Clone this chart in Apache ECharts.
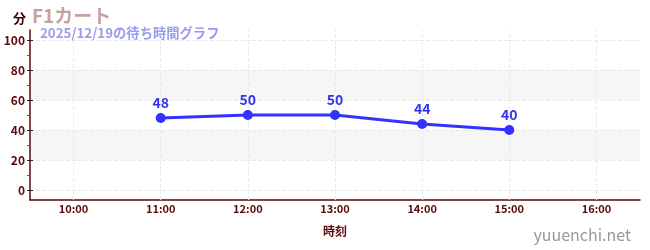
<!DOCTYPE html>
<html><head><meta charset="utf-8">
<script src="https://cdn.jsdelivr.net/npm/echarts@6/dist/echarts.min.js"></script>
<style>html,body{margin:0;padding:0;background:#fff}#c{width:650px;height:250px}</style>
</head><body><div id="c"></div>
<script>
const categories = ['10:00','11:00','12:00','13:00','14:00','15:00','16:00'];
const waitTimes = [null, 48, 50, 50, 44, 40, null];
const yMajorTicks = [0, 20, 40, 60, 80, 100];
const yMinorTicks = [10, 30, 50, 70, 90];
const titleText = 'F1カート';
const subtitleText = '2025/12/19の待ち時間グラフ';
const yName = '分';
const xName = '時刻';
const watermark = 'yuuenchi.net';

const axisColor = '#5a0a0a';
const fontFam = '"Noto Sans CJK JP", "Noto Sans", sans-serif';
const chart = echarts.init(document.getElementById('c'), null, {renderer: 'canvas'});
const yMin = -6.67, yMax = 106.67;
chart.setOption({
  animation: false,
  textStyle: {fontFamily: fontFam},
  title: [
    {text: titleText, left: 27, top: 1, textStyle: {color: '#c9a0a0', fontSize: 19, fontWeight: 'bold', fontFamily: fontFam}},
    {text: subtitleText, left: 35, top: 21, textStyle: {color: '#9b9bef', fontSize: 13.3, fontWeight: 'bold', fontFamily: fontFam}},
    {text: yName, left: 8, top: 7, textStyle: {color: '#400000', fontSize: 13, fontWeight: 'bold', fontFamily: fontFam}},
    {text: watermark, right: 14, top: 222, textStyle: {color: '#999', fontSize: 16, fontWeight: 'normal', fontFamily: fontFam}}
  ],
  grid: {left: 30, right: 10, top: 30, bottom: 50, containLabel: false},
  xAxis: {
    type: 'category', data: categories, boundaryGap: true,
    name: xName, nameLocation: 'middle', nameGap: 25,
    nameTextStyle: {color: axisColor, fontSize: 12, fontWeight: 'bold'},
    axisLine: {onZero: false, lineStyle: {color: axisColor, width: 1.5}},
    axisTick: {alignWithLabel: true, lineStyle: {color: '#888'}, length: 3},
    axisLabel: {color: axisColor, fontSize: 11, fontWeight: 'bold', margin: 3},
    splitLine: {show: false}
  },
  yAxis: [{
    type: 'value', min: yMin, max: yMax,
    axisLine: {show: true, lineStyle: {color: axisColor, width: 1.5}},
    axisTick: {show: true, customValues: yMajorTicks, length: 3, lineStyle: {color: '#222'}},
    axisLabel: {customValues: yMajorTicks, color: axisColor, fontSize: 12, fontWeight: 'bold', margin: 5},
    splitLine: {show: true, lineStyle: {color: '#e8e8e8', type: 'dashed'}},
    splitArea: {show: true, areaStyle: {color: ['rgba(255,255,255,0)', 'rgba(0,0,0,0.035)']}}
  }, {
    type: 'value', min: yMin, max: yMax, position: 'left',
    axisLine: {show: false},
    axisTick: {show: true, customValues: yMinorTicks, length: 3, lineStyle: {color: '#e02020'}},
    axisLabel: {show: false, customValues: yMinorTicks},
    splitLine: {show: false}, splitArea: {show: false}
  }, {
    type: 'value', min: yMin, max: yMax, position: 'left',
    axisLine: {show: false},
    axisTick: {show: true, inside: true, customValues: yMajorTicks, length: 3, lineStyle: {color: '#222'}},
    axisLabel: {show: false, customValues: yMajorTicks},
    splitLine: {show: false}, splitArea: {show: false}
  }],
  series: [{
    type: 'line', data: [], z: 1, silent: true,
    markLine: {
      silent: true, symbol: 'none', label: {show: false}, z: 1,
      lineStyle: {color: '#eaeaea', type: 'dashed', width: 1},
      data: categories.map(c => ({xAxis: c}))
    }
  }, {
    type: 'line', data: waitTimes, yAxisIndex: 0,
    symbol: 'circle', symbolSize: 10,
    lineStyle: {color: '#3333ff', width: 3},
    itemStyle: {color: '#3333ff'},
    label: {show: true, position: 'top', color: '#3333ee', fontSize: 14, fontWeight: 'bold', distance: 3},
    z: 5
  }]
});
</script></body></html>
